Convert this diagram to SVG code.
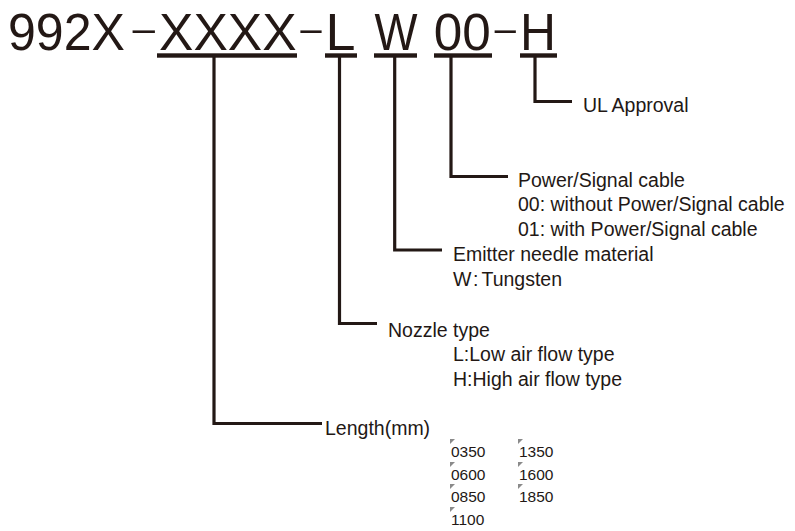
<svg xmlns="http://www.w3.org/2000/svg" width="795" height="531" viewBox="0 0 795 531">
<style>
.t{font-family:"Liberation Sans","Noto Sans CJK JP",sans-serif;fill:#231815}
.big{font-size:52px}
.dash{font-size:34px}
.lab{font-size:19.5px}
.num{font-size:15.5px}
.ln{fill:none;stroke:#231815;stroke-width:3.2;stroke-linejoin:miter;stroke-linecap:butt}
.ul{fill:#231815}
.tri{fill:#8a8a8a}
</style>
<g id="title">
<text class="t big" x="8" y="50" textLength="117" lengthAdjust="spacingAndGlyphs">992X</text>
<text class="t dash" x="128.5" y="40.5" textLength="30.5" lengthAdjust="spacingAndGlyphs">-</text>
<text class="t big" x="159" y="50" textLength="137.5" lengthAdjust="spacingAndGlyphs">XXXX</text>
<text class="t dash" x="296.5" y="40.5" textLength="29" lengthAdjust="spacingAndGlyphs">-</text>
<text class="t big" x="325.5" y="50" textLength="30" lengthAdjust="spacingAndGlyphs">L</text>
<text class="t big" x="374.5" y="50" textLength="43" lengthAdjust="spacingAndGlyphs">W</text>
<text class="t big" x="433.8" y="50" textLength="57" lengthAdjust="spacingAndGlyphs">00</text>
<text class="t dash" x="490.8" y="40.5" textLength="29" lengthAdjust="spacingAndGlyphs">-</text>
<text class="t big" x="520" y="50" textLength="36" lengthAdjust="spacingAndGlyphs">H</text>
<rect class="ul" x="157" y="53.3" width="140" height="4.4"/>
<rect class="ul" x="325" y="53.3" width="32" height="4.4"/>
<rect class="ul" x="374" y="53.3" width="43" height="4.4"/>
<rect class="ul" x="434" y="53.3" width="58" height="4.4"/>
<rect class="ul" x="520" y="53.3" width="37" height="4.4"/>
</g>
<g id="connectors">
<path class="ln" d="M214 57 V423.5 H322"/>
<path class="ln" d="M339.5 57 V323.5 H377"/>
<path class="ln" d="M394.7 57 V250 H442"/>
<path class="ln" d="M451 57 V176.5 H508"/>
<path class="ln" d="M535 57 V101.5 H572"/>
</g>
<g id="ul-approval">
<text class="t lab" x="583" y="112">UL Approval</text>
</g>
<g id="power-signal-cable">
<text class="t lab" x="518" y="187">Power/Signal cable</text>
<text class="t lab" x="518" y="211">00: without Power/Signal cable</text>
<text class="t lab" x="518" y="236">01: with Power/Signal cable</text>
</g>
<g id="emitter-needle">
<text class="t lab" x="453" y="261">Emitter needle material</text>
<text class="t lab" x="453" y="286">W<tspan dx="2">:</tspan><tspan dx="3">Tungsten</tspan></text>
</g>
<g id="nozzle-type">
<text class="t lab" x="388" y="337">Nozzle type</text>
<text class="t lab" x="453" y="361">L:Low air flow type</text>
<text class="t lab" x="453" y="386">H:High air flow type</text>
</g>
<g id="length">
<text class="t lab" x="325" y="435">Length(mm)</text>
<polygon class="tri" points="450,439 455,439 450,444"/>
<polygon class="tri" points="450,462 455,462 450,467"/>
<polygon class="tri" points="450,484 455,484 450,489"/>
<polygon class="tri" points="450,507 455,507 450,512"/>
<polygon class="tri" points="518,439 523,439 518,444"/>
<polygon class="tri" points="518,462 523,462 518,467"/>
<polygon class="tri" points="518,484 523,484 518,489"/>
<text class="t num" x="451" y="457">0350</text>
<text class="t num" x="451" y="480">0600</text>
<text class="t num" x="451" y="502">0850</text>
<text class="t num" x="451" y="525">1100</text>
<text class="t num" x="519" y="457">1350</text>
<text class="t num" x="519" y="480">1600</text>
<text class="t num" x="519" y="502">1850</text>
</g>
</svg>
